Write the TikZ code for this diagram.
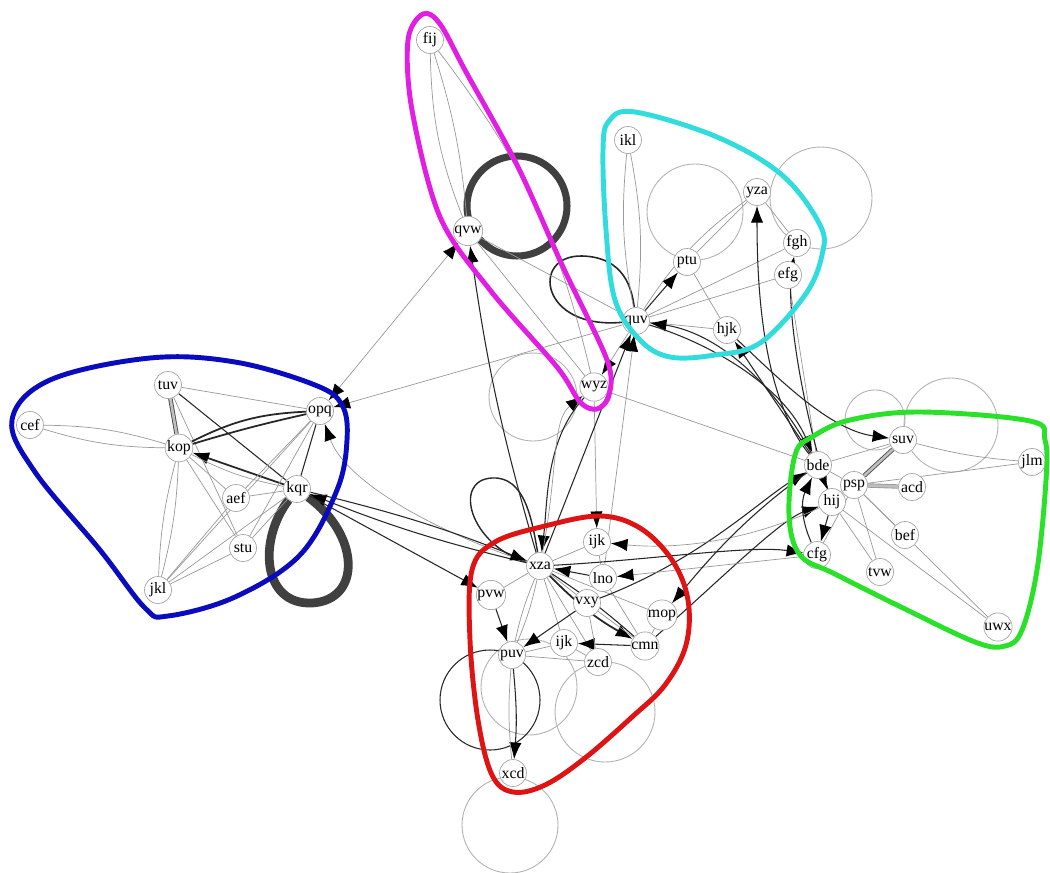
\documentclass[tikz,border=0pt]{standalone}
\usepackage{fontspec}
\setmainfont{Liberation Serif}
\usetikzlibrary{arrows.meta, backgrounds, calc}
\definecolor{hullm}{RGB}{225,30,225}
\definecolor{hullc}{RGB}{50,220,220}
\definecolor{hullb}{RGB}{10,10,190}
\definecolor{hullr}{RGB}{222,20,20}
\definecolor{hullg}{RGB}{40,225,40}
\tikzset{
  nd/.style = {circle, draw=black!35, fill=white, text=black, inner sep=0pt,
    minimum size=0.54cm, line width=0.4pt, font=\fontsize{9}{9}\selectfont},
  lg/.style = {draw=black!40, line width=0.4pt},
  ld/.style = {draw=black!85, line width=0.6pt},
  dbl/.style = {draw=black!70, double=black!25, double distance=1.5pt, line width=0.5pt},
  gl/.style = {draw=black!30, line width=0.5pt},
  tl/.style = {draw=black!75, line width=4pt},
  hull/.style = {line width=2.8pt, line join=round},
  ar/.style = {-{Latex[length=9.5pt,width=7pt,color=black]}},
  ars/.style = {-{Latex[length=5pt,width=4pt,color=black]}},
  arb/.style = {{Latex[length=9.5pt,width=7pt,color=black]}-{Latex[length=9.5pt,width=7pt,color=black]}}
}

\begin{document}
\begin{tikzpicture}[x=0.02cm, y=-0.02cm]
  \useasboundingbox (0,0) rectangle (1050,872);
  % magenta group
  \node [nd] (fij) at (430,40) {fij};
  \node [nd] (qvw) at (468,231) {qvw};
  \node [nd] (wyz) at (594,387) {wyz};
  % cyan group
  \node [nd] (ikl) at (628,140) {ikl};
  \node [nd] (yza) at (757,192) {yza};
  \node [nd] (fgh) at (797,243) {fgh};
  \node [nd] (efg) at (788,275) {efg};
  \node [nd] (ptu) at (687,262) {ptu};
  \node [nd] (quv) at (636,321) {quv};
  \node [nd] (hjk) at (727,330) {hjk};
  % blue group
  \node [nd] (opq) at (320,411) {opq};
  \node [nd] (tuv) at (168,385) {tuv};
  \node [nd] (cef) at (30,425) {cef};
  \node [nd] (kop) at (179,448) {kop};
  \node [nd] (kqr) at (297,489) {kqr};
  \node [nd] (aef) at (236,498) {aef};
  \node [nd] (stu) at (243,548) {stu};
  \node [nd] (jkl) at (158,590) {jkl};
  % red group
  \node [nd] (xza) at (540,566) {xza};
  \node [nd] (ijka) at (597,542) {ijk};
  \node [nd] (lno) at (603,578) {lno};
  \node [nd] (pvw) at (491,595) {pvw};
  \node [nd] (vxy) at (587,603) {vxy};
  \node [nd] (mop) at (662,615) {mop};
  \node [nd] (ijkb) at (564,643) {ijk};
  \node [nd] (cmn) at (645,646) {cmn};
  \node [nd] (puv) at (512,655) {puv};
  \node [nd] (zcd) at (598,662) {zcd};
  \node [nd] (xcd) at (513,773) {xcd};
  % green group
  \node [nd] (suv) at (903,440) {suv};
  \node [nd] (jlm) at (1032,462) {jlm};
  \node [nd] (bde) at (818,465) {bde};
  \node [nd] (psp) at (854,485) {psp};
  \node [nd] (acd) at (912,487) {acd};
  \node [nd] (hij) at (832,502) {hij};
  \node [nd] (bef) at (905,535) {bef};
  \node [nd] (cfg) at (817,555) {cfg};
  \node [nd] (tvw) at (880,572) {tvw};
  \node [nd] (uwx) at (998,627) {uwx};

  \begin{scope}[on background layer]
    \fill [white] (0,0) rectangle (1050,872);
    % self loops
    \draw [gl] ($(ptu)+(8,-50)$) circle [radius=48];
    \draw [gl] ($(yza)+(64,6)$) circle [radius=51];
    \draw [gl] ($(wyz)+(-61,10)$) circle [radius=44];
    \draw [gl] ($(suv)+(-28,-20)$) circle [radius=30];
    \draw [gl] ($(suv)+(48,-15)$) circle [radius=47];
    \draw [gl] ($(puv)+(17,32)$) circle [radius=48];
    \draw [gl] ($(zcd)+(7,50)$) circle [radius=50];
    \draw [gl] ($(xcd)+(-3,52)$) circle [radius=48];
    \draw [ld] ($(puv)+(-22,45)$) circle [radius=50];
    \draw [tl] ($(qvw)+(49,-25)$) circle [radius=50];
    \draw [tl, line width=5pt] (kqr) .. controls (258,540) and (262,605) .. (312,603)
      .. controls (362,600) and (360,535) .. (kqr);
    \draw [ld, line width=0.9pt] (quv) .. controls (540,330) and (530,255) .. (582,256)
      .. controls (625,257) and (632,290) .. (quv);
    \draw [ld, line width=0.8pt] (xza) .. controls (470,545) and (452,480) .. (492,478)
      .. controls (525,476) and (532,520) .. (xza);
    % blue group
    \draw [lg] (cef) to[bend left=8] (kop);
    \draw [lg] (cef) to[bend right=8] (kop);
    \draw [dbl] (tuv) -- (kop);
    \draw [ld] (tuv) -- (kqr);
    \draw [lg] (tuv) -- (stu);
    \draw [lg] (tuv) -- (opq);
    \draw [ld, line width=1pt] (kop) to[bend left=12] (opq);
    \draw [ld, line width=1pt] (kop) to[bend left=2] (opq);
    \draw [ld, line width=1pt, ar] (kqr) -- (kop);
    \draw [lg] (kqr) to[bend left=8] (kop);
    \draw [ld] (kqr) -- (opq);
    \draw [lg] (kop) -- (aef);
    \draw [lg] (kop) -- (stu);
    \draw [lg] (kop) to[bend right=6] (jkl);
    \draw [lg] (kop) to[bend left=6] (jkl);
    \draw [lg] (aef) -- (opq);
    \draw [lg] (aef) -- (kqr);
    \draw [lg] (aef) -- (jkl);
    \draw [lg] (stu) -- (kqr);
    \draw [lg] (stu) -- (opq);
    \draw [lg] (stu) -- (jkl);
    \draw [lg] (jkl) -- (kqr);
    \draw [lg] (jkl) -- (opq);
    % between groups
    \draw [lg, arb] (qvw) -- (opq);
    \draw [lg, ar] (quv) -- (opq);
    \draw [lg, ar] (xza) .. controls (430,530) and (345,480) .. (opq);
    \draw [ld, ar] (xza) to[bend left=4] (kqr);
    \draw [ld, ar] (kqr) to[bend left=4] (xza);
    \draw [ld, ar] (kqr) -- (pvw);
    % magenta group
    \draw [lg] (fij) to[bend left=6] (qvw);
    \draw [lg] (fij) to[bend right=10] (qvw);
    \draw [lg] (fij) to[bend left=12] (wyz);
    \draw [lg] (qvw) -- (wyz);
    \draw [lg] (qvw) -- (quv);
    \draw [ld, ar] (xza) to[bend left=4] (qvw);
    \draw [ld, ar] (wyz) .. controls (545,440) and (548,500) .. (xza);
    \draw [lg, ar] (xza) .. controls (558,470) and (552,420) .. (wyz);
    \draw [lg, ar] (quv) -- (wyz);
    \draw [lg, ar] (wyz) -- (ijka);
    \draw [lg] (wyz) -- (bde);
    % cyan group
    \draw [lg] (ikl) to[bend left=8] (quv);
    \draw [lg] (ikl) to[bend right=8] (quv);
    \draw [ld, ar] (quv) -- (ptu);
    \draw [lg] (quv) to[bend left=10] (yza);
    \draw [lg] (ptu) -- (yza);
    \draw [lg] (quv) -- (fgh);
    \draw [lg] (quv) -- (efg);
    \draw [lg] (ptu) -- (hjk);
    \draw [lg] (fgh) -- (yza);
    \draw [lg] (hjk) -- (quv);
    \draw [lg] (efg) -- (bde);
    \draw [ld, ar] (bde) .. controls (765,400) and (757,300) .. (yza);
    \draw [ld, ars] (hij) .. controls (800,400) and (785,300) .. (fgh);
    \draw [ld, ar] (bde) .. controls (760,360) and (700,330) .. (quv);
    \draw [ld, ar] (quv) .. controls (700,340) and (780,380) .. (bde);
    \draw [ld, ar] (bde) -- (hjk);
    \draw [ld, ar] (hjk) .. controls (780,380) and (830,430) .. (suv);
    \draw [ld, ar] (xza) -- (quv);
    \draw [lg, ar] (lno) -- (quv);
    % red group
    \draw [ld, line width=1pt, ar] (xza) to[bend right=8] (cmn);
    \draw [ld] (xza) to[bend left=4] (cmn);
    \draw [ld, ar] (lno) -- (xza);
    \draw [lg] (xza) -- (ijka);
    \draw [lg] (xza) -- (vxy);
    \draw [lg] (xza) -- (zcd);
    \draw [lg] (xza) -- (ijkb);
    \draw [lg] (xza) to[bend right=5] (puv);
    \draw [lg] (xza) to[bend left=5] (puv);
    \draw [lg] (xza) -- (pvw);
    \draw [lg] (xza) -- (mop);
    \draw [ld, ar] (pvw) -- (puv);
    \draw [ld, ar] (vxy) -- (puv);
    \draw [ld, ar] (cmn) -- (ijkb);
    \draw [lg] (puv) -- (zcd);
    \draw [lg] (puv) -- (ijkb);
    \draw [lg] (vxy) -- (cmn);
    \draw [lg] (lno) -- (cmn);
    \draw [lg] (ijka) -- (lno);
    \draw [lg] (mop) -- (cmn);
    \draw [lg] (vxy) -- (zcd);
    \draw [lg] (ijkb) -- (zcd);
    \draw [ld, ar] (puv) to[bend left=5] (xcd);
    \draw [lg] (puv) to[bend right=5] (xcd);
    % red to green
    \draw [ld, ar] (vxy) .. controls (700,560) and (760,500) .. (bde);
    \draw [ld, ar] (cmn) .. controls (720,580) and (780,520) .. (hij);
    \draw [ld, ar] (xza) .. controls (650,560) and (750,545) .. (cfg);
    \draw [lg, ar] (hij) .. controls (750,540) and (680,550) .. (ijka);
    \draw [lg, ar] (cfg) -- (lno);
    \draw [ld, ar] (bde) .. controls (740,520) and (700,570) .. (mop);
    % green group
    \draw [dbl] (psp) -- (suv);
    \draw [dbl, draw=black!40] (psp) -- (acd);
    \draw [lg] (psp) -- (jlm);
    \draw [lg] (psp) -- (bef);
    \draw [lg] (psp) -- (tvw);
    \draw [lg] (psp) -- (uwx);
    \draw [lg] (psp) -- (cfg);
    \draw [lg] (psp) -- (hij);
    \draw [lg] (psp) -- (bde);
    \draw [lg] (suv) to[bend right=5] (jlm);
    \draw [lg] (hij) -- (uwx);
    \draw [lg] (hij) -- (tvw);
    \draw [lg] (bde) -- (suv);
    \draw [ld, ar] (bde) -- (hij);
    \draw [ld, ar] (hij) -- (cfg);
    \draw [ld, ar] (cfg) to[bend left=25] (bde);
  \end{scope}

  % group hulls
  \draw [hull, hullm] plot[smooth cycle, tension=0.55] coordinates {(423,14) (440,24)
    (466,72) (517,165) (563,267) (607,360) (609,395) (597,409) (580,402) (557,367)
    (490,290) (440,217) (412,110) (408,40)};
  \draw [hull, hullc] plot[smooth cycle, tension=0.6] coordinates {(609,121) (635,112)
    (717,137) (782,175) (820,225) (822,255) (805,295) (760,343) (715,355) (670,357)
    (640,340) (615,300) (606,230) (603,150)};
  \draw [hull, hullb] plot[smooth cycle, tension=0.6] coordinates {(12,420) (50,380)
    (150,358) (235,362) (315,385) (342,405) (347,440) (337,490) (300,555) (235,597)
    (168,616) (145,608) (100,550) (35,472)};
  \draw [hull, hullr] plot[smooth cycle, tension=0.6] coordinates {(600,516) (545,526)
    (495,542) (472,570) (470,640) (478,720) (492,775) (513,792) (545,785) (585,758)
    (632,717) (665,685) (686,645) (688,600) (672,560) (640,528)};
  \draw [hull, hullg] plot[smooth cycle, tension=0.6] coordinates {(795,455) (812,437)
    (850,420) (920,412) (1030,421) (1045,440) (1046,480) (1037,570) (1022,630)
    (1005,646) (975,642) (903,608) (835,574) (800,555) (789,515)};
\end{tikzpicture}
\end{document}
